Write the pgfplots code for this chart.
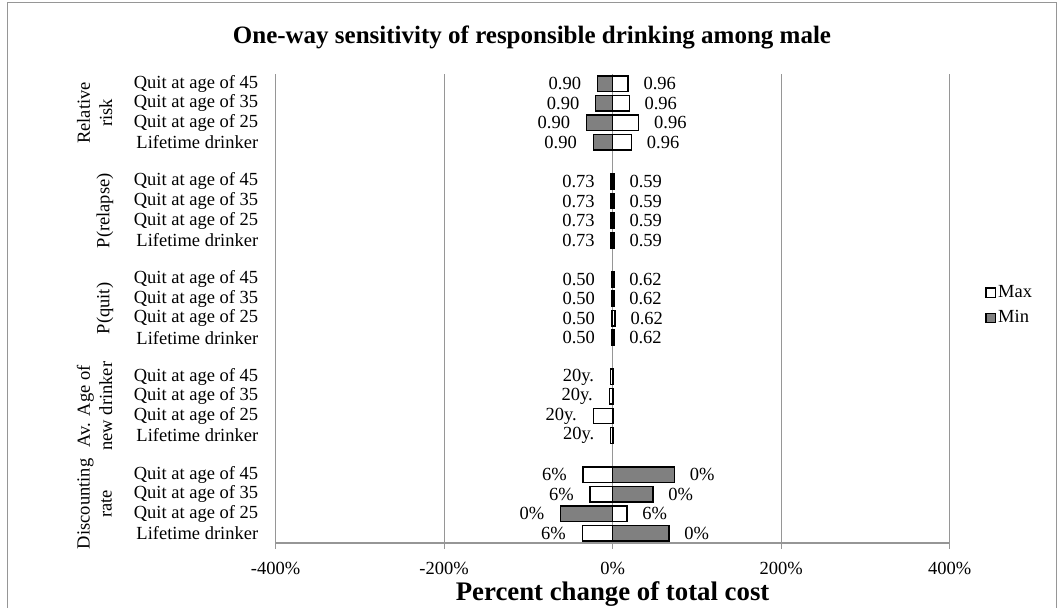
\documentclass[border=0pt]{standalone}
\usepackage{pgfplots}
\pgfplotsset{compat=1.18}
\usepackage{pgfplotstable}
\usepackage{fontspec}
\setmainfont{Liberation Serif}
\definecolor{gridgray}{RGB}{150,150,150}
\definecolor{barfill}{RGB}{128,128,128}
\newcommand\lab{\fontsize{9.25}{11.1}\selectfont}
\newcommand\headfont{\bfseries\fontsize{12.5}{15}\selectfont}
\newcommand\xlabfont{\bfseries\fontsize{13.4}{16}\selectfont}
\pgfplotsset{
  sqlegend/.style={legend image code/.code={\draw[##1, line width=0.6pt] (0pt,-2.4pt) rectangle (4.8pt,2.4pt);}},
  sensbar/.style={xbar, bar width=7.75pt, bar shift=0pt, draw=black, line width=0.7pt, sqlegend},
}

% pos: row slot (0 = bottom), vmin / vmax: percent change of total cost
% llab / rlab: parameter values printed beside the bars
\pgfplotstableread{
pos vmin vmax llab rlab
0  66.8 -36.0 6\% 0\%
1 -61.7  17.0 0\% 6\%
2  47.8 -26.6 6\% 0\%
3  73.5 -35.0 6\% 0\%
5   0.3  -2.2 20y. -
6   0.3 -23.0 20y. -
7   0.3  -4.0 20y. -
8   0.3  -2.5 20y. -
10 -1.5   1.5 0.50 0.62
11 -1.5   3.0 0.50 0.62
12 -1.5   1.5 0.50 0.62
13 -1.5   1.5 0.50 0.62
15 -1.8   1.8 0.73 0.59
16 -1.8   1.8 0.73 0.59
17 -1.8   1.8 0.73 0.59
18 -1.8   1.8 0.73 0.59
20 -23.0 22.5 0.90 0.96
21 -31.0 31.0 0.90 0.96
22 -20.0 19.7 0.90 0.96
23 -18.0 18.5 0.90 0.96
}\sens

\begin{document}
\begin{tikzpicture}
\useasboundingbox (0pt,0pt) rectangle (531.5pt,304pt);
\draw[gridgray, line width=0.5pt] (3.5pt,-1pt) -- (3.5pt,302.5pt) -- (528pt,302.5pt) -- (528pt,-1pt);
\node[font=\headfont] at (266pt,285.5pt) {One-way sensitivity of responsible drinking among male};
\begin{axis}[
  at={(137.8pt,32.5pt)}, anchor=south west,
  scale only axis, width=337pt, height=234.5pt,
  xmin=-400, xmax=400, ymin=-0.5, ymax=23.5,
  xtick={-400,-200,0,200,400},
  xticklabels={-400\%,-200\%,0\%,200\%,400\%},
  ytick={0,1,2,3,5,6,7,8,10,11,12,13,15,16,17,18,20,21,22,23},
  yticklabels={Lifetime drinker,Quit at age of 25,Quit at age of 35,Quit at age of 45,
               Lifetime drinker,Quit at age of 25,Quit at age of 35,Quit at age of 45,
               Lifetime drinker,Quit at age of 25,Quit at age of 35,Quit at age of 45,
               Lifetime drinker,Quit at age of 25,Quit at age of 35,Quit at age of 45,
               Lifetime drinker,Quit at age of 25,Quit at age of 35,Quit at age of 45},
  major tick length=2.8pt, tick align=outside,
  xtick pos=bottom, ytick pos=left,
  xtick style={gridgray, line width=0.6pt},
  ytick style={draw=none},
  xmajorgrids, grid style={gridgray, line width=0.6pt},
  axis line style={draw=none},
  xticklabel style={font=\lab, anchor=north, inner sep=0pt, yshift=-6.5pt},
  yticklabel style={font=\lab, anchor=east, inner sep=0pt, xshift=-5.7pt},
  xlabel={Percent change of total cost},
  xlabel style={font=\xlabfont, at={(axis description cs:0.5,0)}, anchor=center, yshift=-25.5pt},
  clip=false,
  legend style={at={(axis description cs:1.0525,0.5064)}, anchor=west, draw=none, fill=none,
                font=\lab, row sep=3pt, inner sep=0pt, nodes={inner sep=1pt}},
  legend cell align=left,
]
\addplot[sensbar, fill=white] table[x=vmax, y=pos] {\sens};
\addlegendentry{Max}
\addplot[sensbar, fill=barfill] table[x=vmin, y=pos] {\sens};
\addlegendentry{Min}

% value labels left and right of each pair of bars
\addplot[draw=none, mark=none, forget plot, nodes near coords, point meta=explicit symbolic,
  nodes near coords style={font=\lab, anchor=east, inner sep=0pt, xshift=-8pt}]
  table[x expr={min(\thisrow{vmin},\thisrow{vmax})}, y=pos, meta=llab] {\sens};
\addplot[draw=none, mark=none, forget plot, nodes near coords, point meta=explicit symbolic,
  skip coords between index={4}{8},
  nodes near coords style={font=\lab, anchor=west, inner sep=0pt, xshift=7.5pt}]
  table[x expr={max(\thisrow{vmin},\thisrow{vmax})}, y=pos, meta=rlab] {\sens};

\draw[gridgray, line width=0.6pt] (axis cs:-400,-0.5) -- (axis cs:400,-0.5);

% parameter group names
\node[font=\lab, rotate=90, align=center] at ([xshift=-90.5pt]axis cs:-400,1.5) {Discounting\\rate};
\node[font=\lab, rotate=90, align=center] at ([xshift=-90.5pt]axis cs:-400,6.5) {Av. Age of\\new drinker};
\node[font=\lab, rotate=90] at ([xshift=-85.3pt]axis cs:-400,11.5) {P(quit)};
\node[font=\lab, rotate=90] at ([xshift=-85.3pt]axis cs:-400,16.5) {P(relapse)};
\node[font=\lab, rotate=90, align=center] at ([xshift=-90.5pt]axis cs:-400,21.5) {Relative\\risk};
\end{axis}
\end{tikzpicture}
\end{document}
